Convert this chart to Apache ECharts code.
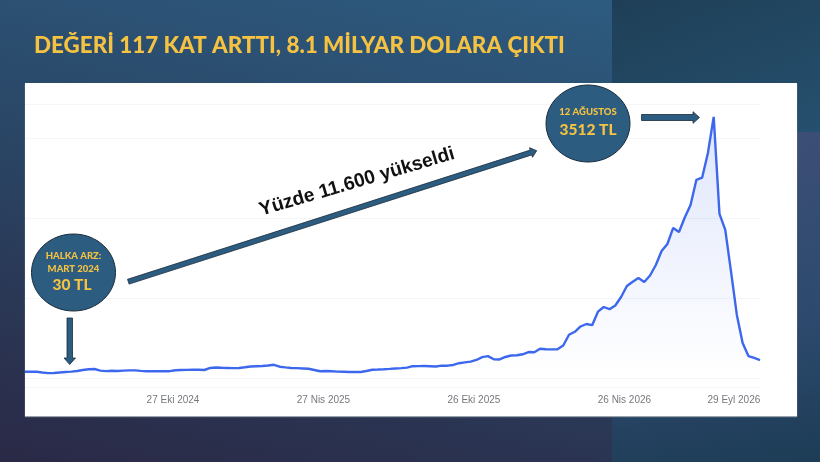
<!DOCTYPE html>
<html lang="tr">
<head>
    <meta charset="UTF-8">
    <title>Değeri 117 kat arttı</title>
    <script src="https://cdn.jsdelivr.net/npm/echarts@6/dist/echarts.min.js"></script>
    <style>
        * { margin: 0; padding: 0; }
        html, body { width: 820px; height: 462px; overflow: hidden; background: #1f3f57; }
        .bg { position: absolute; }
        #bgLeft { left: 0; top: 0; width: 612px; height: 462px; background: linear-gradient(192deg, #2d5b80 0%, #2a4463 48%, #2a2946 100%); }
        #bgTop { left: 612px; top: 0; width: 208px; height: 132px; background: linear-gradient(160deg, #1f3f57, #25506e); }
        #bgBottom { left: 612px; top: 132px; width: 208px; height: 330px; background: linear-gradient(170deg, #3f4f78 0%, #2d4a6e 60%, #1d3c55 100%); }
        #card { left: 25px; top: 83px; width: 772px; height: 333px; background: #fff; box-shadow: 0 1px 1px #9aa3ad; }
        #chart { position: absolute; left: 0; top: 0; width: 820px; height: 462px; }
    </style>
</head>
<body>
<div class="bg" id="bgLeft"></div>
<div class="bg" id="bgTop"></div>
<div class="bg" id="bgBottom"></div>
<div class="bg" id="card"></div>
<div id="chart"></div>
<script>
    const titleText = "DEĞERİ 117 KAT ARTTI, 8.1 MİLYAR DOLARA ÇIKTI"

    // haftalik fiyat (TL)
    const firstWeek = "2024-05-01"
    const prices = [
        34, 34, 34, 23, 14, 16, 23, 30, 35, 44,
        57, 68, 71, 48, 41, 46, 44, 48, 52, 52,
        45, 40, 40, 40, 40, 41, 53, 57, 59, 61,
        60, 57, 85, 92, 87, 85, 82, 85, 94, 104,
        109, 112, 119, 128, 102, 93, 85, 82, 78, 74,
        57, 40, 44, 40, 35, 33, 30, 30, 30, 44,
        60, 63, 67, 72, 78, 83, 89, 109, 110, 112,
        109, 104, 116, 116, 126, 150, 161, 171, 194, 232,
        246, 203, 201, 235, 255, 258, 272, 302, 300, 347,
        341, 339, 340, 392, 538, 579, 651, 685, 669, 853,
        917, 887, 937, 1053, 1203, 1261, 1312, 1258, 1347, 1490,
        1682, 1777, 1996, 1941, 2139, 2310, 2651, 2682, 3020, 3512,
        2187, 1969, 1396, 809, 427, 248, 221, 193
    ]

    const tickDates = ["2024-10-27", "2025-04-27", "2025-10-26", "2026-04-26", "2026-09-29"]
    const tickLabels = ["27 Eki 2024", "27 Nis 2025", "26 Eki 2025", "26 Nis 2026", "29 Eyl 2026"]
    const gridValues = [-175, -52, 1040, 2132, 3224, 3688]

    const toTime = d => +new Date(d + "T00:00:00")
    const weekMs = 7 * 24 * 3600 * 1000
    const points = prices.map((p, i) => [toTime(firstWeek) + i * weekMs, p])
    const tickTimes = tickDates.map(toTime)

    const navy = "#2c5c80"
    const edge = "#1b2c3b"
    const gold = "#f5c242"

    const goldText = function (text, x, y, size) {
        return {
            type: "text", z: 20, x: x, y: y,
            style: {
                text: text, fill: gold, align: "center", verticalAlign: "middle",
                font: "900 " + size + "px Lato, 'Noto Sans', sans-serif"
            }
        }
    }
    const bubble = function (cx, cy) {
        return {
            type: "ellipse", z: 15,
            shape: {cx: cx, cy: cy, rx: 42, ry: 38.5},
            style: {fill: navy, stroke: edge, lineWidth: 1}
        }
    }
    const arrow = function (pts) {
        return {
            type: "polygon", z: 15,
            shape: {points: pts},
            style: {fill: navy, stroke: edge, lineWidth: 0.8}
        }
    }

    const chart = echarts.init(document.getElementById("chart"), null, {renderer: "canvas"})
    chart.setOption({
        animation: false,
        backgroundColor: "transparent",
        title: {
            text: titleText, left: 29, top: 30,
            textStyle: {color: gold, fontFamily: "Lato", fontWeight: 900, fontSize: 22.4}
        },
        grid: {left: 25, right: 60, top: 104, bottom: 75},
        xAxis: {
            type: "value",
            min: points[0][0],
            max: points[points.length - 1][0],
            axisLine: {show: false},
            axisTick: {show: false, customValues: tickTimes},
            splitLine: {show: false},
            axisLabel: {
                customValues: tickTimes,
                color: "#74787d",
                fontFamily: "Liberation Sans",
                fontSize: 10,
                margin: 8,
                hideOverlap: false,
                formatter: function (v) {
                    const i = tickTimes.indexOf(v)
                    if (i === tickTimes.length - 1) return "{last|" + tickLabels[i] + "}"
                    return tickLabels[i]
                },
                rich: {
                    last: {
                        color: "#74787d", fontFamily: "Liberation Sans", fontSize: 10,
                        padding: [0, 39, 0, 0]
                    }
                }
            }
        },
        yAxis: {
            type: "value",
            min: gridValues[0],
            max: gridValues[gridValues.length - 1],
            axisLine: {show: false},
            axisLabel: {show: false},
            axisTick: {show: false, customValues: gridValues},
            splitLine: {show: true, lineStyle: {color: "#f4f5f6", width: 1}}
        },
        series: [{
            type: "line",
            data: points,
            showSymbol: false,
            smooth: false,
            lineStyle: {color: "#3d68ee", width: 2.4},
            itemStyle: {color: "#3d68ee"},
            areaStyle: {
                color: new echarts.graphic.LinearGradient(0, 0, 0, 1, [
                    {offset: 0, color: "rgba(61,104,238,0.24)"},
                    {offset: 1, color: "rgba(61,104,238,0)"}
                ])
            }
        }],
        graphic: [
            bubble(73.5, 272.5),
            goldText("HALKA ARZ:", 73.5, 256, 9.5),
            goldText("MART 2024", 73.5, 268.5, 9.5),
            goldText("30 TL", 72, 285, 15.5),
            arrow([[67, 318], [72.5, 318], [72.5, 358], [75.5, 358], [69.7, 364.5], [64, 358], [67, 358]]),

            bubble(588, 123.5),
            goldText("12 AĞUSTOS", 588, 112, 9.5),
            goldText("3512 TL", 588, 129.5, 15.5),
            arrow([[641.5, 114.5], [693, 114.5], [693, 111.7], [699.5, 117.5], [693, 123.3], [693, 120.5], [641.5, 120.5]]),

            arrow([[129.1, 284.1], [531.8, 154.9], [532.5, 157.3], [536.7, 150.7], [529.5, 147.7], [530.2, 150.1], [127.5, 279.3]]),
            {
                type: "text", z: 20, x: 357, y: 182, rotation: 16.4 * Math.PI / 180,
                style: {
                    text: "Yüzde 11.600 yükseldi", fill: "#111", align: "center", verticalAlign: "middle",
                    font: "bold 19.3px 'Liberation Sans', sans-serif"
                }
            }
        ]
    })
</script>
</body>
</html>
